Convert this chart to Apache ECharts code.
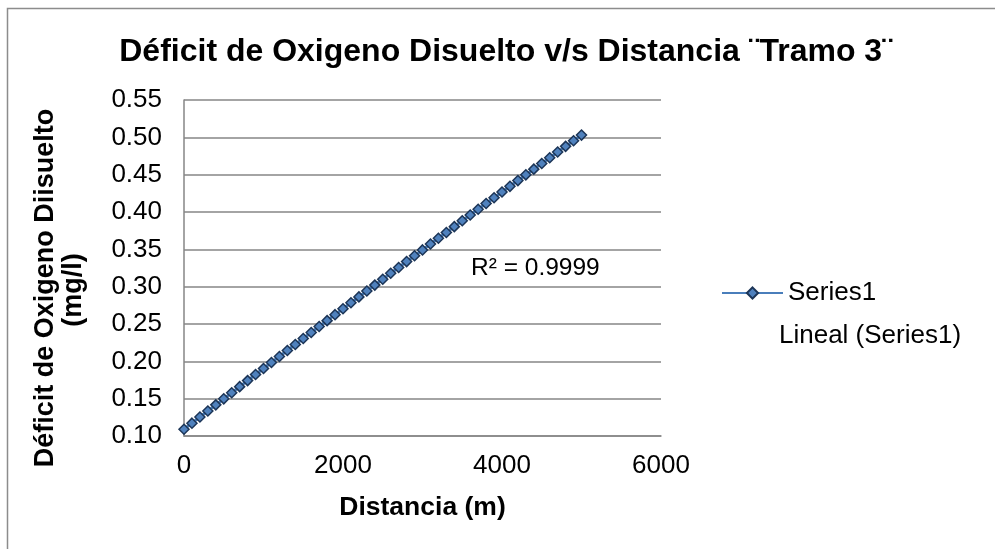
<!DOCTYPE html>
<html>
<head>
<meta charset="utf-8">
<script src="https://cdn.jsdelivr.net/npm/echarts@6/dist/echarts.min.js"></script>
<style>
  html, body { margin: 0; padding: 0; background: #fff; }
  #chart { width: 995px; height: 549px; }
</style>
</head>
<body>
<div id="chart"></div>
<script>
// Distance along the reach (m)
const distancia = [
  0, 100, 200, 300, 400, 500, 600, 700, 800, 900,
  1000, 1100, 1200, 1300, 1400, 1500, 1600, 1700, 1800, 1900,
  2000, 2100, 2200, 2300, 2400, 2500, 2600, 2700, 2800, 2900,
  3000, 3100, 3200, 3300, 3400, 3500, 3600, 3700, 3800, 3900,
  4000, 4100, 4200, 4300, 4400, 4500, 4600, 4700, 4800, 4900, 5000
];
// Dissolved oxygen deficit (mg/l)
const deficit = [
  0.1090, 0.1172, 0.1254, 0.1335, 0.1417, 0.1498, 0.1580, 0.1661, 0.1742, 0.1823,
  0.1904, 0.1985, 0.2065, 0.2145, 0.2226, 0.2306, 0.2386, 0.2466, 0.2545, 0.2625,
  0.2704, 0.2784, 0.2863, 0.2942, 0.3021, 0.3100, 0.3179, 0.3257, 0.3336, 0.3414,
  0.3492, 0.3571, 0.3648, 0.3726, 0.3804, 0.3882, 0.3959, 0.4036, 0.4114, 0.4191,
  0.4268, 0.4344, 0.4421, 0.4498, 0.4574, 0.4650, 0.4727, 0.4803, 0.4879, 0.4954, 0.5030
];
const rSquaredText = 'R² = 0.9999';
const yTicks = { min: 0.10, max: 0.55, step: 0.05 };
const xTicks = { min: 0, max: 6000, step: 2000 };
const yTitleLines = ['Déficit de Oxigeno Diisuelto', '(mg/l)'];

// Least-squares line through the measured points
const n = distancia.length;
const mx = distancia.reduce((a, b) => a + b, 0) / n;
const my = deficit.reduce((a, b) => a + b, 0) / n;
let sxy = 0, sxx = 0;
for (let i = 0; i < n; i++) {
  sxy += (distancia[i] - mx) * (deficit[i] - my);
  sxx += (distancia[i] - mx) * (distancia[i] - mx);
}
const slope = sxy / sxx;
const intercept = my - slope * mx;
const x0 = distancia[0], x1 = distancia[n - 1];
const trend = [[x0, intercept + slope * x0], [x1, intercept + slope * x1]];

const FONT = '"Liberation Sans", Arial, sans-serif';
const chart = echarts.init(document.getElementById('chart'));

chart.setOption({
  backgroundColor: '#ffffff',
  animation: false,
  title: {
    text: 'Déficit de Oxigeno Disuelto v/s Distancia ¨Tramo 3¨',
    left: 501, textAlign: 'center', top: 31,
    textStyle: { fontFamily: FONT, fontSize: 32, fontWeight: 'bold', color: '#000' }
  },
  grid: { left: 184, right: 334, top: 100, bottom: 113 },
  legend: [{
    orient: 'vertical', left: 716, top: 275,
    itemWidth: 61, itemHeight: 14,
    data: ['Series1'],
    textStyle: { fontFamily: FONT, fontSize: 26, color: '#000' }
  }, {
    orient: 'vertical', left: 707, top: 318,
    itemWidth: 61, itemHeight: 14,
    data: [{ name: 'Lineal (Series1)', itemStyle: { opacity: 0 }, lineStyle: { opacity: 0 } }],
    textStyle: { fontFamily: FONT, fontSize: 26, color: '#000' }
  }],
  xAxis: {
    type: 'value',
    min: xTicks.min, max: xTicks.max, interval: xTicks.step,
    name: 'Distancia (m)', nameLocation: 'middle', nameGap: 58,
    nameTextStyle: { fontFamily: FONT, fontSize: 26.5, fontWeight: 'bold', color: '#000' },
    axisLine: { show: true, lineStyle: { color: '#868686', width: 1.5 } },
    axisTick: { show: false },
    splitLine: { show: false },
    axisLabel: { fontFamily: FONT, fontSize: 26, color: '#000', margin: 17, formatter: v => String(v) }
  },
  yAxis: {
    type: 'value',
    min: yTicks.min, max: yTicks.max, interval: yTicks.step,
    axisLine: { show: true, lineStyle: { color: '#868686', width: 1.5 } },
    axisTick: { show: false },
    splitLine: { show: true, lineStyle: { color: '#868686', width: 1.5 } },
    axisLabel: {
      fontFamily: FONT, fontSize: 26, color: '#000', margin: 22,
      formatter: v => v.toFixed(2)
    }
  },
  graphic: [{
    type: 'rect', silent: true, z: -10,
    shape: { x: 7.5, y: 8.5, width: 1000, height: 600 },
    style: { fill: 'none', stroke: '#8c8c8c', lineWidth: 1.5 }
  }, {
    type: 'text', x: 46, y: 288, rotation: Math.PI / 2,
    style: { text: yTitleLines[0], font: 'bold 27px ' + FONT, fill: '#000', textAlign: 'center', textVerticalAlign: 'middle' }
  }, {
    type: 'text', x: 74, y: 290, rotation: Math.PI / 2,
    style: { text: yTitleLines[1], font: 'bold 27px ' + FONT, fill: '#000', textAlign: 'center', textVerticalAlign: 'middle' }
  }, {
    type: 'text', left: 471, top: 256,
    style: { text: rSquaredText, font: '24.5px ' + FONT, fill: '#000' }
  }],
  series: [{
    name: 'Series1',
    type: 'line',
    data: distancia.map((d, i) => [d, deficit[i]]),
    symbol: 'diamond', symbolSize: 10, showAllSymbol: true,
    lineStyle: { color: '#4A7EBB', width: 3 },
    itemStyle: { color: '#4F81BD', borderColor: '#1C3557', borderWidth: 1.5 },
    z: 3
  }, {
    name: 'Lineal (Series1)',
    type: 'line',
    data: trend,
    symbol: 'none',
    lineStyle: { opacity: 0 },
    itemStyle: { opacity: 0 },
    z: 2
  }]
});
</script>
</body>
</html>
